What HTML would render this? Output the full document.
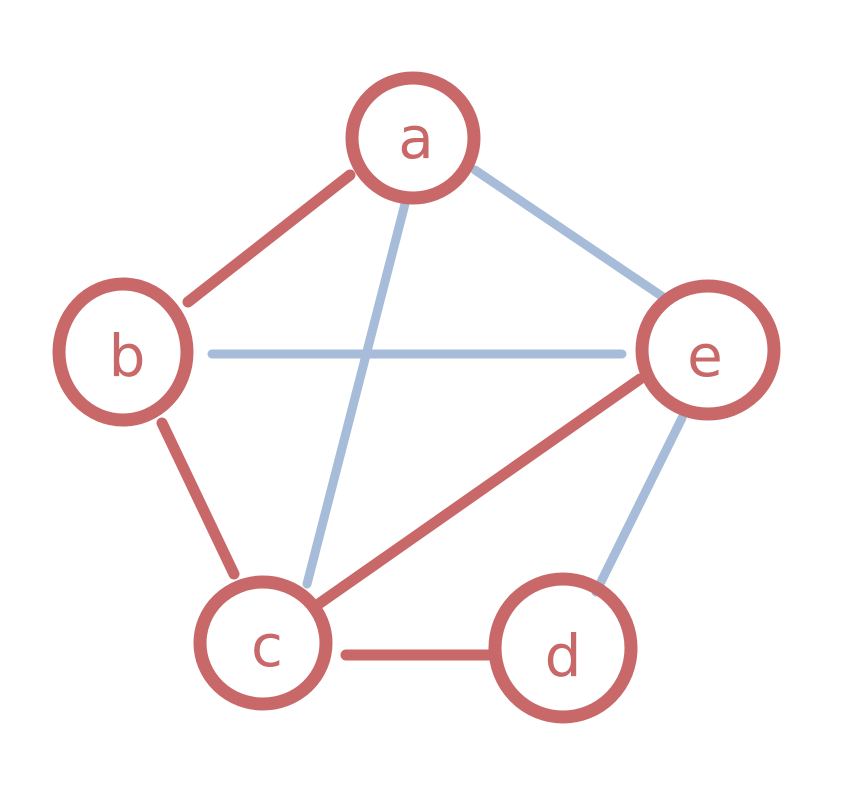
<!DOCTYPE html>
<html><head><meta charset="utf-8"><style>
html,body{margin:0;padding:0;background:#fff;}
svg{display:block}
text{font-family:"DejaVu Sans","Liberation Sans",sans-serif;fill:#c86868;font-size:58px;text-anchor:middle}
</style></head><body>
<svg width="848" height="811" viewBox="0 0 848 811" xmlns="http://www.w3.org/2000/svg">
<g stroke-linecap="round" fill="none">
<g stroke="#a6bcd9" stroke-width="9">
<line x1="475" y1="170" x2="663" y2="297"/>
<line x1="406" y1="200" x2="307" y2="584"/>
<line x1="212" y1="354" x2="622" y2="354"/>
<line x1="682" y1="418" x2="596" y2="592"/>
</g>
<g stroke="#c86868" stroke-width="11">
<line x1="350" y1="175" x2="188" y2="302"/>
<line x1="162" y1="423" x2="234" y2="574"/>
<line x1="320" y1="603" x2="640" y2="379"/>
<line x1="346" y1="655" x2="490" y2="655"/>
</g>
<g stroke="#c86868" stroke-width="13">
<ellipse cx="413" cy="138" rx="61" ry="60"/>
<ellipse cx="123" cy="352" rx="64" ry="68"/>
<ellipse cx="708" cy="350" rx="66" ry="64"/>
<ellipse cx="263" cy="643" rx="63" ry="61"/>
<ellipse cx="563" cy="648" rx="68" ry="69"/>
</g>
</g>
<text x="416" y="158">a</text>
<text x="127" y="376">b</text>
<text x="705" y="376">e</text>
<text x="267" y="666">c</text>
<text x="563" y="676">d</text>
</svg>
</body></html>
